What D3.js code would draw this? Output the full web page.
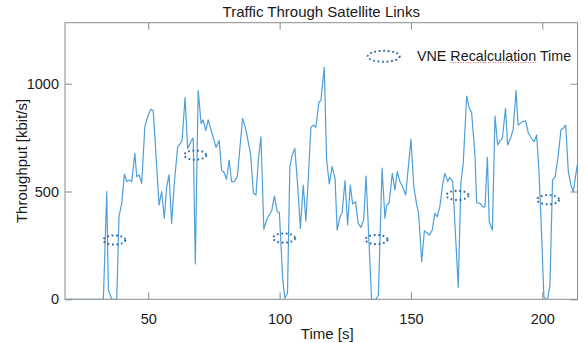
<!DOCTYPE html>
<html>
<head>
<meta charset="utf-8">
<script src="https://cdn.jsdelivr.net/npm/d3@7"></script>
<style>
  html, body { margin: 0; padding: 0; background: #fff; }
  svg { display: block; }
  text { font-family: "Liberation Sans", Arial, sans-serif; fill: #1a1a1a; }
</style>
</head>
<body>
<svg id="chart" width="587" height="343"></svg>
<script>
// ---- data ----
const times = [18, 32.9, 34.2, 34.8, 36.1, 38.0, 38.85, 39.9, 40.9, 41.8,
  42.7, 43.7, 44.9, 45.6, 46.5, 47.5, 48.7, 50.0, 51.0, 51.9,
  54.1, 55.1, 56.1, 57.0, 57.9, 58.9, 59.9, 61.2, 62.4, 62.9,
  64.0, 65.0, 66.7, 67.1, 67.9, 69.0, 70.1, 70.9, 71.9, 72.8,
  74.1, 75.8, 77.0, 77.9, 78.9, 79.8, 80.8, 81.7, 82.7, 83.9,
  85.9, 87.2, 89.0, 90.0, 91.0, 91.9, 92.9, 94.0, 95.3, 97.0,
  98.0, 99.1, 99.9, 101.2, 102.0, 103.0, 103.9, 104.8, 105.8, 106.9,
  107.9, 109.0, 110.0, 110.9, 111.9, 113.0, 113.8, 115.0, 115.7, 117.0,
  117.9, 118.9, 120.0, 121.1, 121.9, 123.0, 123.8, 124.9, 125.9, 126.9,
  127.8, 128.9, 129.9, 131.0, 132.0, 132.9, 135.0, 136.7, 137.6, 139.0,
  140.1, 140.75, 141.7, 142.9, 143.9, 144.8, 145.8, 146.8, 148.0, 150.0,
  151.1, 152.2, 152.9, 154.1, 155.1, 156.0, 157.0, 158.1, 159.1, 160.0,
  161.0, 162.1, 162.9, 164.0, 164.8, 165.9, 168.0, 169.0, 169.9, 171.2,
  172.2, 173.1, 174.4, 175.0, 176.3, 177.5, 178.2, 179.1, 179.8, 181.0,
  182.0, 183.0, 183.9, 184.8, 186.0, 186.8, 188.1, 188.9, 190.0, 190.8,
  192.4, 193.7, 194.7, 195.9, 196.9, 197.85, 198.7, 199.8, 200.6, 201.4,
  202.0, 202.9, 203.9, 204.9, 206.0, 207.1, 207.9, 208.9, 209.9, 210.9,
  211.8, 213.1, 214];
const throughput = [0, 0, 499, 43, 0, 0, 383, 445, 581, 546,
  553, 546, 677, 569, 577, 538, 801, 855, 881, 875,
  437, 499, 376, 522, 577, 352, 538, 708, 726, 739,
  937, 700, 742, 747, 164, 968, 816, 832, 782, 832,
  777, 705, 736, 600, 587, 557, 646, 546, 546, 569,
  839, 785, 669, 492, 484, 646, 754, 325, 376, 411,
  479, 406, 403, 90, 5, 28, 618, 669, 700, 522,
  329, 530, 363, 553, 798, 808, 798, 917, 920, 1076,
  646, 535, 615, 561, 321, 383, 403, 550, 345, 530,
  442, 453, 352, 334, 368, 572, 0, 0, 20, 608,
  376, 437, 448, 584, 507, 592, 546, 522, 484, 742,
  522, 437, 399, 174, 318, 309, 298, 321, 399, 383,
  430, 535, 584, 546, 566, 546, 56, 538, 631, 943,
  886, 866, 661, 448, 445, 427, 430, 659, 360, 321,
  850, 716, 736, 747, 886, 716, 754, 788, 968, 808,
  824, 828, 770, 747, 731, 762, 600, 283, 12, 0,
  0, 62, 553, 569, 661, 785, 793, 808, 592, 530,
  499, 608, 660];
const recalcTimes = [37.1, 67.9, 101.7, 136.9, 167.7, 202.2];
const recalcLevels = [275, 669, 284, 277, 482, 462];
const xTicks = [50, 100, 150, 200];
const yTicks = [0, 500, 1000];
const xDomain = [18.3, 213.4];
const yDomain = [0, 1283];
const titleText = "Traffic Through Satellite Links";
const xLabel = "Time [s]";
const yLabel = "Throughput [kbit/s]";
const legendLabel = "VNE Recalculation Time";

// ---- layout ----
const L = 65, R = 577.5, T = 22.7, B = 299.3;
const svg = d3.select("#chart");
svg.append("rect").attr("width", 587).attr("height", 343).attr("fill", "#fff");

const x = d3.scaleLinear().domain(xDomain).range([L, R]);
const y = d3.scaleLinear().domain(yDomain).range([B, T]);

const axisColor = "#8c8c8c";
const fs = "14.5px";

svg.append("defs").append("clipPath").attr("id", "clip")
  .append("rect").attr("x", L).attr("y", T).attr("width", R - L).attr("height", B - T);

// line
const pts = times.map((t, i) => [t, throughput[i]]);
svg.append("path")
  .datum(pts)
  .attr("clip-path", "url(#clip)")
  .attr("fill", "none")
  .attr("stroke", "#4e9fd9")
  .attr("stroke-width", 1.2)
  .attr("stroke-linejoin", "round")
  .attr("d", d3.line().x(d => x(d[0])).y(d => y(d[1])));

// axes
function styleAxis(g, showLabels) {
  g.select(".domain").remove();
  g.selectAll(".tick line").attr("stroke", axisColor).attr("stroke-width", 1);
  g.selectAll(".tick text").attr("font-size", fs).attr("fill", "#1a1a1a")
    .style("font-family", '"Liberation Sans", Arial, sans-serif');
  if (!showLabels) g.selectAll(".tick text").remove();
}
svg.append("g").attr("transform", `translate(0,${B})`)
  .call(d3.axisBottom(x).tickValues(xTicks).tickSize(-7).tickPadding(14).tickFormat(d3.format("d")))
  .call(g => styleAxis(g, true));
svg.append("g").attr("transform", `translate(0,${T})`)
  .call(d3.axisTop(x).tickValues(xTicks).tickSize(-7))
  .call(g => styleAxis(g, false));
svg.append("g").attr("transform", `translate(${L},0)`)
  .call(d3.axisLeft(y).tickValues(yTicks).tickSize(-7).tickPadding(6).tickFormat(d3.format("d")))
  .call(g => styleAxis(g, true));
svg.append("g").attr("transform", `translate(${R},0)`)
  .call(d3.axisRight(y).tickValues(yTicks).tickSize(-7))
  .call(g => styleAxis(g, false));

// box
svg.append("rect").attr("x", L).attr("y", T).attr("width", R - L).attr("height", B - T)
  .attr("fill", "none").attr("stroke", axisColor).attr("stroke-width", 1);

// recalculation ellipses
const ellColor = "#3a6da6";
svg.append("g").selectAll("ellipse")
  .data(recalcTimes.map((t, i) => [t, recalcLevels[i]]))
  .join("ellipse")
  .attr("cx", d => x(d[0])).attr("cy", d => y(d[1]))
  .attr("rx", 11).attr("ry", 4.6)
  .attr("fill", "none").attr("stroke", ellColor).attr("stroke-width", 2)
  .attr("stroke-dasharray", "1.8,2.6");

// legend
svg.append("ellipse").attr("cx", 383.7).attr("cy", 56.3).attr("rx", 16).attr("ry", 5.5)
  .attr("fill", "none").attr("stroke", ellColor).attr("stroke-width", 2)
  .attr("stroke-dasharray", "1.8,2.6");
const lt = svg.append("text").attr("x", 417).attr("y", 60.5)
  .attr("font-size", "14.3px").text(legendLabel);
// spell-check squiggle under "Recalculation"
try {
  const n = lt.node();
  const sx = n.getStartPositionOfChar(4).x;
  const w = n.getSubStringLength(4, 13);
  svg.append("line").attr("x1", sx).attr("x2", sx + w).attr("y1", 62.5).attr("y2", 62.5)
    .attr("stroke", "#e06060").attr("stroke-width", 1).attr("stroke-dasharray", "1,1.5");
} catch (e) {}

// title & labels
svg.append("text").attr("x", (L + R) / 2).attr("y", 16.7).attr("text-anchor", "middle")
  .attr("font-size", "15px").text(titleText);
svg.append("text").attr("x", (L + R) / 2 + 6).attr("y", 338.5).attr("text-anchor", "middle")
  .attr("font-size", "15px").text(xLabel);
svg.append("text").attr("transform", `translate(26.5,${(T + B) / 2}) rotate(-90)`)
  .attr("text-anchor", "middle").attr("font-size", "15px").text(yLabel);
</script>
</body>
</html>
